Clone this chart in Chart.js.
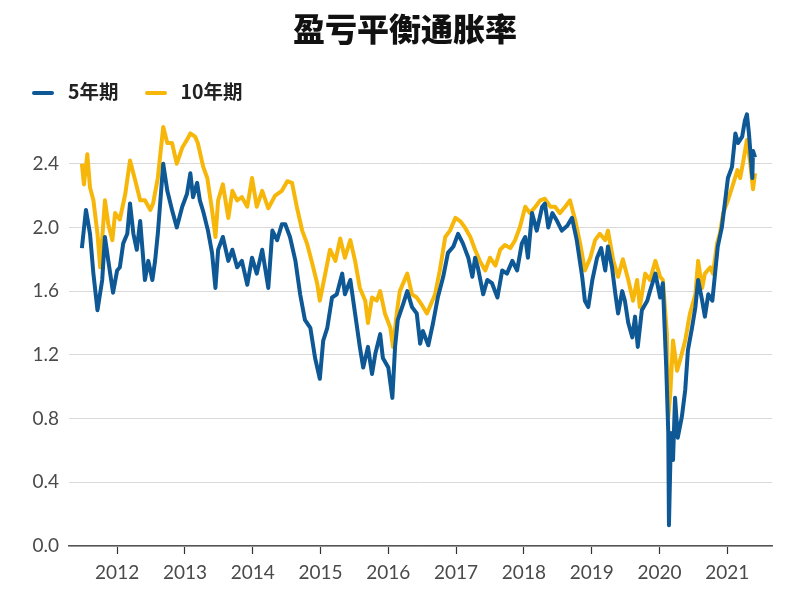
<!DOCTYPE html>
<html lang="zh">
<head>
<meta charset="utf-8">
<title>盈亏平衡通胀率</title>
<script src="https://cdn.jsdelivr.net/npm/chart.js@4.4.0/dist/chart.umd.min.js"></script>
<style>
    html, body { margin: 0; padding: 0; background: #fff; }
    #wrap { position: relative; width: 810px; height: 610px; }
    #title {
        position: absolute; left: 0; top: 5px; width: 810px; text-align: center;
        font-family: "Noto Sans CJK SC", sans-serif; font-weight: 900; font-size: 32px;
        color: #111; line-height: 44px;
    }
    #legend {
        position: absolute; left: 32px; top: 77px; height: 28px;
        font-family: "Noto Sans CJK SC", sans-serif; font-weight: 700; font-size: 19.5px;
        color: #222; line-height: 28px; white-space: nowrap;
    }
    .item { display: inline-block; margin-right: 26px; }
    .swatch { display: inline-block; width: 22px; height: 4px; border-radius: 2px; vertical-align: middle; margin-right: 14px; position: relative; top: -1px; }
    canvas { position: absolute; left: 0; top: 0; }
</style>
</head>
<body>
<div id="wrap">
    <canvas id="chart" width="810" height="610"></canvas>
    <div id="title">盈亏平衡通胀率</div>
    <div id="legend"></div>
</div>
<script>
// 系列名称与颜色
const seriesNames = ['5年期', '10年期'];
const seriesColors = ['#0d5895', '#f6b60a'];

// 横轴年份刻度
const yearTicks = [2012, 2013, 2014, 2015, 2016, 2017, 2018, 2019, 2020, 2021];
// 纵轴刻度
const rateTicks = [0.0, 0.4, 0.8, 1.2, 1.6, 2.0, 2.4];

// 5年期 (日期为小数年份)
const dates5 = [
    2011.48, 2011.54, 2011.60, 2011.65, 2011.71, 2011.78, 2011.82, 2011.87, 2011.94, 2012.00,
    2012.04, 2012.09, 2012.15, 2012.19, 2012.24, 2012.29, 2012.34, 2012.41, 2012.46, 2012.52,
    2012.56, 2012.60, 2012.68, 2012.74, 2012.81, 2012.88, 2012.96, 2013.03, 2013.08, 2013.12,
    2013.18, 2013.22, 2013.27, 2013.34, 2013.40, 2013.45, 2013.49, 2013.56, 2013.64, 2013.70,
    2013.77, 2013.84, 2013.92, 2013.99, 2014.06, 2014.14, 2014.23, 2014.29, 2014.36, 2014.43,
    2014.48, 2014.55, 2014.63, 2014.70, 2014.77, 2014.85, 2014.92, 2014.99, 2015.04, 2015.10,
    2015.17, 2015.24, 2015.32, 2015.36, 2015.44, 2015.51, 2015.58, 2015.63, 2015.70, 2015.76,
    2015.81, 2015.88, 2015.92, 2016.00, 2016.06, 2016.10, 2016.14, 2016.22, 2016.28, 2016.35,
    2016.42, 2016.47, 2016.51, 2016.59, 2016.66, 2016.73, 2016.81, 2016.88, 2016.96, 2017.03,
    2017.10, 2017.18, 2017.24, 2017.28, 2017.32, 2017.40, 2017.46, 2017.53, 2017.61, 2017.68,
    2017.75, 2017.83, 2017.90, 2017.97, 2018.02, 2018.06, 2018.12, 2018.19, 2018.27, 2018.31,
    2018.36, 2018.42, 2018.49, 2018.56, 2018.64, 2018.71, 2018.78, 2018.86, 2018.90, 2018.95,
    2019.01, 2019.08, 2019.14, 2019.20, 2019.24, 2019.30, 2019.35, 2019.39, 2019.45, 2019.49,
    2019.54, 2019.60, 2019.64, 2019.68, 2019.74, 2019.82, 2019.86, 2019.94, 2020.01, 2020.05,
    2020.10, 2020.13, 2020.14, 2020.17, 2020.20, 2020.23, 2020.27, 2020.33, 2020.38, 2020.42,
    2020.48, 2020.53, 2020.57, 2020.63, 2020.67, 2020.72, 2020.78, 2020.82, 2020.86, 2020.92,
    2020.97, 2021.01, 2021.07, 2021.12, 2021.16, 2021.22, 2021.26, 2021.29, 2021.32, 2021.37,
    2021.38, 2021.41
];
const values5 = [
    1.87, 2.11, 1.96, 1.71, 1.48, 1.67, 1.94, 1.79, 1.59, 1.73,
    1.75, 1.90, 1.96, 2.15, 1.96, 1.86, 2.04, 1.67, 1.79, 1.67,
    1.79, 1.96, 2.40, 2.23, 2.11, 2.00, 2.13, 2.21, 2.34, 2.19,
    2.28, 2.17, 2.10, 1.98, 1.84, 1.62, 1.86, 1.94, 1.79, 1.86,
    1.75, 1.79, 1.64, 1.81, 1.71, 1.86, 1.62, 1.98, 1.92, 2.02,
    2.02, 1.94, 1.79, 1.58, 1.42, 1.37, 1.18, 1.05, 1.29, 1.37,
    1.56, 1.58, 1.71, 1.58, 1.67, 1.46, 1.25, 1.12, 1.25, 1.08,
    1.21, 1.33, 1.18, 1.12, 0.93, 1.25, 1.42, 1.52, 1.60, 1.50,
    1.46, 1.27, 1.35, 1.26, 1.40, 1.56, 1.69, 1.84, 1.88, 1.96,
    1.90, 1.81, 1.69, 1.81, 1.75, 1.58, 1.67, 1.65, 1.56, 1.73,
    1.71, 1.79, 1.73, 1.90, 1.94, 1.81, 2.09, 1.98, 2.13, 2.15,
    2.00, 2.09, 2.04, 1.98, 2.01, 2.06, 1.92, 1.69, 1.54, 1.50,
    1.67, 1.81, 1.87, 1.73, 1.88, 1.75, 1.58, 1.46, 1.60, 1.54,
    1.40, 1.31, 1.44, 1.25, 1.48, 1.54, 1.60, 1.71, 1.56, 1.65,
    1.12, 0.71, 0.13, 0.71, 0.54, 0.93, 0.68, 0.81, 0.98, 1.23,
    1.37, 1.50, 1.67, 1.54, 1.44, 1.58, 1.54, 1.71, 1.88, 2.00,
    2.17, 2.31, 2.38, 2.59, 2.53, 2.57, 2.67, 2.71, 2.59, 2.31,
    2.48, 2.44
];

// 10年期
const dates10 = [
    2011.48, 2011.51, 2011.56, 2011.60, 2011.65, 2011.71, 2011.75, 2011.82, 2011.87, 2011.93,
    2011.97, 2012.04, 2012.12, 2012.19, 2012.27, 2012.34, 2012.41, 2012.49, 2012.53, 2012.60,
    2012.68, 2012.74, 2012.81, 2012.88, 2012.96, 2013.03, 2013.08, 2013.15, 2013.19, 2013.27,
    2013.33, 2013.40, 2013.45, 2013.49, 2013.56, 2013.64, 2013.70, 2013.77, 2013.84, 2013.92,
    2013.99, 2014.06, 2014.14, 2014.23, 2014.33, 2014.43, 2014.51, 2014.58, 2014.65, 2014.73,
    2014.80, 2014.88, 2014.95, 2014.99, 2015.07, 2015.14, 2015.22, 2015.29, 2015.36, 2015.44,
    2015.51, 2015.58, 2015.66, 2015.70, 2015.76, 2015.83, 2015.88, 2015.95, 2016.03, 2016.07,
    2016.13, 2016.17, 2016.28, 2016.35, 2016.42, 2016.50, 2016.57, 2016.65, 2016.69, 2016.76,
    2016.84, 2016.91, 2016.99, 2017.06, 2017.13, 2017.21, 2017.28, 2017.35, 2017.43, 2017.50,
    2017.58, 2017.65, 2017.72, 2017.80, 2017.87, 2017.94, 2018.02, 2018.09, 2018.17, 2018.24,
    2018.31, 2018.39, 2018.46, 2018.53, 2018.61, 2018.68, 2018.76, 2018.83, 2018.90, 2018.98,
    2019.05, 2019.12, 2019.20, 2019.24, 2019.32, 2019.39, 2019.46, 2019.54, 2019.61, 2019.67,
    2019.71, 2019.79, 2019.86, 2019.94, 2020.01, 2020.05, 2020.11, 2020.13, 2020.16, 2020.20,
    2020.26, 2020.30, 2020.38, 2020.45, 2020.53, 2020.57, 2020.63, 2020.67, 2020.75, 2020.79,
    2020.85, 2020.89, 2020.94, 2021.01, 2021.07, 2021.15, 2021.19, 2021.23, 2021.29, 2021.34,
    2021.38, 2021.41
];
const values10 = [
    2.40, 2.27, 2.46, 2.25, 2.17, 1.96, 1.75, 2.17, 2.02, 1.92,
    2.09, 2.05, 2.21, 2.42, 2.29, 2.17, 2.17, 2.11, 2.15, 2.31,
    2.63, 2.53, 2.53, 2.40, 2.50, 2.55, 2.59, 2.57, 2.53, 2.38,
    2.31, 2.11, 1.94, 2.17, 2.27, 2.06, 2.23, 2.17, 2.19, 2.13,
    2.31, 2.13, 2.23, 2.12, 2.20, 2.23, 2.29, 2.28, 2.13, 1.98,
    1.90, 1.77, 1.65, 1.54, 1.71, 1.86, 1.79, 1.93, 1.81, 1.92,
    1.79, 1.62, 1.54, 1.40, 1.56, 1.54, 1.60, 1.46, 1.37, 1.25,
    1.48, 1.60, 1.71, 1.58, 1.56, 1.51, 1.46, 1.54, 1.58, 1.73,
    1.94, 1.98, 2.06, 2.04, 2.00, 1.94, 1.86, 1.79, 1.73, 1.81,
    1.76, 1.86, 1.89, 1.87, 1.92, 2.00, 2.13, 2.09, 2.13, 2.17,
    2.18, 2.13, 2.13, 2.09, 2.13, 2.17, 2.04, 1.90, 1.73, 1.81,
    1.92, 1.96, 1.92, 1.98, 1.79, 1.69, 1.80, 1.67, 1.54, 1.67,
    1.50, 1.71, 1.67, 1.79, 1.69, 1.67, 1.33, 0.81, 0.96, 1.29,
    1.10, 1.16, 1.29, 1.46, 1.58, 1.79, 1.62, 1.71, 1.75, 1.71,
    1.90, 1.96, 2.09, 2.17, 2.25, 2.36, 2.31, 2.40, 2.55, 2.40,
    2.24, 2.34
];

// 图例
const legendEl = document.getElementById('legend');
seriesNames.forEach((name, i) => {
    const item = document.createElement('span');
    item.className = 'item';
    item.innerHTML = `<span class="swatch" style="background:${seriesColors[i]}"></span>${name}`;
    legendEl.appendChild(item);
});

function toPoints(xs, ys) {
    return xs.map((x, i) => ({ x: x, y: ys[i] }));
}

const tickFont = { family: 'Lato, "Open Sans", sans-serif', size: 19 };

new Chart(document.getElementById('chart'), {
    type: 'line',
    data: {
        datasets: [
            {
                label: seriesNames[0],
                data: toPoints(dates5, values5),
                borderColor: seriesColors[0],
                borderWidth: 4,
                pointRadius: 0,
                tension: 0,
                borderJoinStyle: 'round'
            },
            {
                label: seriesNames[1],
                data: toPoints(dates10, values10),
                borderColor: seriesColors[1],
                borderWidth: 4,
                pointRadius: 0,
                tension: 0,
                borderJoinStyle: 'round'
            }
        ]
    },
    options: {
        responsive: false,
        animation: false,
        layout: { padding: { top: 100, right: 38, bottom: 0, left: 0 } },
        plugins: {
            legend: { display: false },
            title: { display: false },
            tooltip: { enabled: false }
        },
        scales: {
            x: {
                type: 'linear',
                min: 2011.29,
                max: 2021.66,
                afterBuildTicks: (scale) => { scale.ticks = yearTicks.map(v => ({ value: v })); },
                afterFit: (scale) => { scale.height = 64; },
                ticks: {
                    font: tickFont,
                    color: '#4a4a4a',
                    padding: 7,
                    maxRotation: 0,
                    autoSkip: false,
                    callback: (v) => String(v)
                },
                grid: {
                    drawOnChartArea: false,
                    drawTicks: true,
                    tickLength: 8,
                    tickColor: '#333',
                    tickWidth: 1.2
                },
                border: { display: true, color: '#555', width: 1.5 }
            },
            y: {
                min: 0,
                max: 2.8,
                afterBuildTicks: (scale) => { scale.ticks = rateTicks.map(v => ({ value: v })); },
                afterFit: (scale) => { scale.width = 69; },
                ticks: {
                    font: tickFont,
                    color: '#4a4a4a',
                    padding: 10,
                    callback: (v) => v.toFixed(1)
                },
                grid: {
                    drawTicks: false,
                    color: '#d9d9d9',
                    lineWidth: 1
                },
                border: { display: false }
            }
        }
    }
});
</script>
</body>
</html>
